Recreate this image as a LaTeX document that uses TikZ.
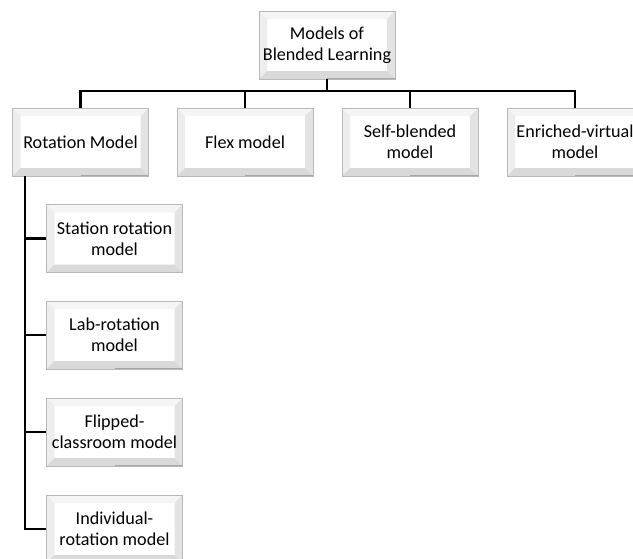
\documentclass[tikz,border=0pt]{standalone}
\usepackage{fontspec}
\setmainfont{Carlito}
\tikzset{
  bevelbox/.style={draw=gray!55, fill=white, minimum width=102pt, minimum height=51pt,
    inner sep=0pt, align=center,
    font=\fontsize{13.6}{16}\selectfont,
    path picture={
      % bevel facets
      \fill[gray!8] (path picture bounding box.north west) -- (path picture bounding box.north east)
        -- ([xshift=-6pt,yshift=-6pt]path picture bounding box.north east)
        -- ([xshift=6pt,yshift=-6pt]path picture bounding box.north west) -- cycle;
      \fill[gray!14] (path picture bounding box.north west) -- (path picture bounding box.south west)
        -- ([xshift=6pt,yshift=6pt]path picture bounding box.south west)
        -- ([xshift=6pt,yshift=-6pt]path picture bounding box.north west) -- cycle;
      \fill[gray!22] (path picture bounding box.north east) -- (path picture bounding box.south east)
        -- ([xshift=-6pt,yshift=6pt]path picture bounding box.south east)
        -- ([xshift=-6pt,yshift=-6pt]path picture bounding box.north east) -- cycle;
      \fill[gray!30] (path picture bounding box.south west) -- (path picture bounding box.south east)
        -- ([xshift=-6pt,yshift=6pt]path picture bounding box.south east)
        -- ([xshift=6pt,yshift=6pt]path picture bounding box.south west) -- cycle;
      \draw[gray!70, line width=1.2pt] (path picture bounding box.south)
        -- (path picture bounding box.south east);
    }},
  conn/.style={line width=1.7pt, black}
}
\begin{document}
\begin{tikzpicture}[x=0.75pt, y=-0.75pt]
    \useasboundingbox (0,0) rectangle (633,558);
    \clip (0,0) rectangle (633,558);

    \node[bevelbox] (root) at (327,45) {Models of\\Blended Learning};

    % first level
    \node[bevelbox] (rot) at (80.5,142) {Rotation Model};
    \node[bevelbox] (flex) at (245,142) {Flex model};
    \node[bevelbox] (self) at (410,142) {Self-blended\\model};
    \node[bevelbox] (enr) at (575,142) {Enriched-virtual\\model};

    % rotation sub-models
    \node[bevelbox] (sta) at (114.5,238.5) {Station rotation\\model};
    \node[bevelbox] (lab) at (114.5,335) {Lab-rotation\\model};
    \node[bevelbox] (fli) at (114.5,432) {Flipped-\\classroom model};
    \node[bevelbox] (ind) at (114.5,529) {Individual-\\rotation model};

    \coordinate (bar) at (0,91);
    \coordinate (trunk) at (25,0);

    \foreach \c in {rot,flex,self,enr}
      \draw[conn] (root.south) -- (root.south |- bar) -| (\c.north);

    \foreach \c in {sta,lab,fli,ind}
      \draw[conn] (rot.south -| trunk) |- (\c.west);
\end{tikzpicture}
\end{document}
